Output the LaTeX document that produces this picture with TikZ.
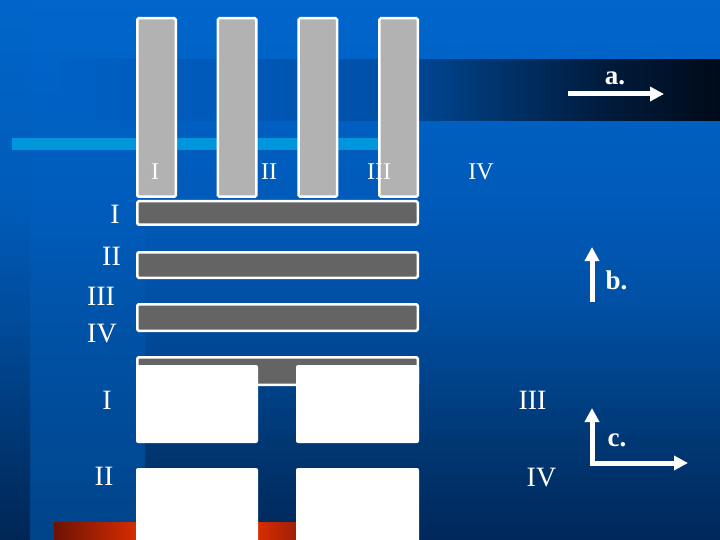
\documentclass[tikz,border=0pt]{standalone}
\usepackage{fontspec}
\setmainfont{Liberation Serif}
\usetikzlibrary{arrows.meta}

\definecolor{barlight}{RGB}{178,178,178}
\definecolor{bardark}{RGB}{100,100,100}
\definecolor{cyanbar}{RGB}{0,150,220}
% background tones
\definecolor{bgA}{RGB}{0,102,204}
\definecolor{bgB}{RGB}{0,90,185}
\definecolor{bgC}{RGB}{0,80,165}
\definecolor{bgD}{RGB}{0,55,115}
\definecolor{bgE}{RGB}{0,40,90}
\definecolor{pnB}{RGB}{0,92,188}
\definecolor{pnC}{RGB}{0,84,170}
\definecolor{pnD}{RGB}{0,74,150}
\definecolor{pnE}{RGB}{0,68,138}
\definecolor{stA}{RGB}{0,101,202}
\definecolor{stB}{RGB}{0,91,184}
\definecolor{stC}{RGB}{0,78,160}
\definecolor{stD}{RGB}{0,54,114}
\definecolor{stE}{RGB}{0,38,85}
\definecolor{bdA}{RGB}{0,96,196}
\definecolor{bdB}{RGB}{0,90,186}
\definecolor{bdC}{RGB}{0,80,168}
\definecolor{bdD}{RGB}{0,58,120}
\definecolor{bdE}{RGB}{0,28,62}
\definecolor{bdF}{RGB}{0,10,25}
\definecolor{rdA}{RGB}{110,18,5}
\definecolor{rdB}{RGB}{215,45,0}
\definecolor{rdC}{RGB}{225,50,0}
\definecolor{rdD}{RGB}{160,32,8}

\pgfdeclareverticalshading{bgmain}{100bp}{color(0bp)=(bgE); color(25bp)=(bgE);
  color(34bp)=(bgD); color(47bp)=(bgC); color(56bp)=(bgB); color(75bp)=(bgA); color(100bp)=(bgA)}
\pgfdeclareverticalshading{bgpanel}{100bp}{color(0bp)=(pnE); color(25bp)=(pnE);
  color(34bp)=(pnD); color(47bp)=(pnC); color(56bp)=(pnB); color(75bp)=(bgA); color(100bp)=(bgA)}
\pgfdeclareverticalshading{bgstrip}{100bp}{color(0bp)=(stE); color(25bp)=(stE);
  color(34bp)=(stD); color(47bp)=(stC); color(56bp)=(stB); color(75bp)=(stA); color(100bp)=(stA)}
\pgfdeclarehorizontalshading{darkband}{100bp}{color(0bp)=(bdA); color(25bp)=(bdA);
  color(36bp)=(bdB); color(49bp)=(bdC); color(56bp)=(bdD); color(66bp)=(bdE); color(75bp)=(bdF); color(100bp)=(bdF)}
\pgfdeclarehorizontalshading{redband}{100bp}{color(0bp)=(rdA); color(25bp)=(rdA);
  color(42bp)=(rdB); color(55bp)=(rdC); color(67bp)=(rdB); color(75bp)=(rdD); color(100bp)=(rdD)}

\tikzset{
  colbar/.style={draw=white, line width=2.5pt, fill=barlight, rounded corners=1.5pt},
  rowbar/.style={colbar, fill=bardark},
  whitebox/.style={fill=white, rounded corners=2pt},
  numeral/.style={text=white, anchor=base, inner sep=0pt, font=\fontsize{28}{30}\selectfont},
  topnumeral/.style={numeral, font=\fontsize{24}{26}\selectfont},
  axislabel/.style={text=white, anchor=base, inner sep=0pt, font=\bfseries\fontsize{27}{29}\selectfont},
  axisarrow/.style={draw=white, line width=5pt, miter limit=4,
    -{Triangle[length=14pt,width=14pt]}},
}

\begin{document}
\begin{tikzpicture}[x=1pt,y=-1pt]
  \useasboundingbox (0,0) rectangle (720,540);
  \clip (0,0) rectangle (720,540);
  % background
  \shade[shading=bgmain] (0,0) rectangle (720,540);
  \shade[shading=bgpanel] (30,0) rectangle (145,540);
  \shade[shading=bgstrip] (0,0) rectangle (30,540);
  \shade[shading=darkband] (60,60) rectangle (720,121);
  \fill[cyanbar] (12,138) rectangle (400,150);
  \shade[shading=redband] (54,522) rectangle (296,540);

  % vertical bars
  \foreach \i in {0,...,3}
    \draw[colbar] ({137.25+80.7*\i},18.25) rectangle ({175.75+80.7*\i},196.75);
  \foreach \n/\x/\t in {1/155/I, 2/269/II, 3/379/III, 4/481/IV}
    \node[topnumeral] (top-\n) at (\x,180) {\t};

  % horizontal bars
  \draw[rowbar] (137.25,201.25) rectangle (417.75,224.75);
  \draw[rowbar] (137.25,252.25) rectangle (417.75,277.75);
  \draw[rowbar] (137.25,304.25) rectangle (417.75,330.75);
  \foreach \n/\x/\y/\t in {1/115/224/I, 2/111.5/265/II, 3/101/305/III, 4/102/342/IV}
    \node[numeral] (row-\n) at (\x,\y) {\t};

  % blocks
  \draw[rowbar] (137.25,357.25) rectangle (417.75,384.75);
  \fill[whitebox] (136,365) rectangle (258,443);
  \fill[whitebox] (296,365) rectangle (419,443);
  \fill[whitebox] (136,468) rectangle (258,550);
  \fill[whitebox] (296,468) rectangle (419,550);
  \node[numeral] (blk-1) at (107,409) {I};
  \node[numeral] (blk-2) at (104,485) {II};
  \node[numeral] (blk-3) at (532.5,409) {III};
  \node[numeral] (blk-4) at (541.5,486) {IV};

  % directions
  \coordinate (a-from) at (568,94);
  \coordinate (a-to) at (664,94);
  \draw[axisarrow] (a-from) -- (a-to);
  \node[axislabel] (a-lab) at (615,85) {a.};

  \coordinate (b-from) at (592,302);
  \coordinate (b-to) at (592,247);
  \draw[axisarrow] (b-from) -- (b-to);
  \node[axislabel] (b-lab) at (616.5,289) {b.};

  \coordinate (c-up) at (592,408);
  \coordinate (c-corner) at (592,463);
  \coordinate (c-right) at (688,463);
  \draw[axisarrow, {Triangle[length=14pt,width=14pt]}-{Triangle[length=14pt,width=14pt]}]
    (c-up) -- (c-corner) -- (c-right);
  \node[axislabel] (c-lab) at (617,446) {c.};
\end{tikzpicture}
\end{document}
